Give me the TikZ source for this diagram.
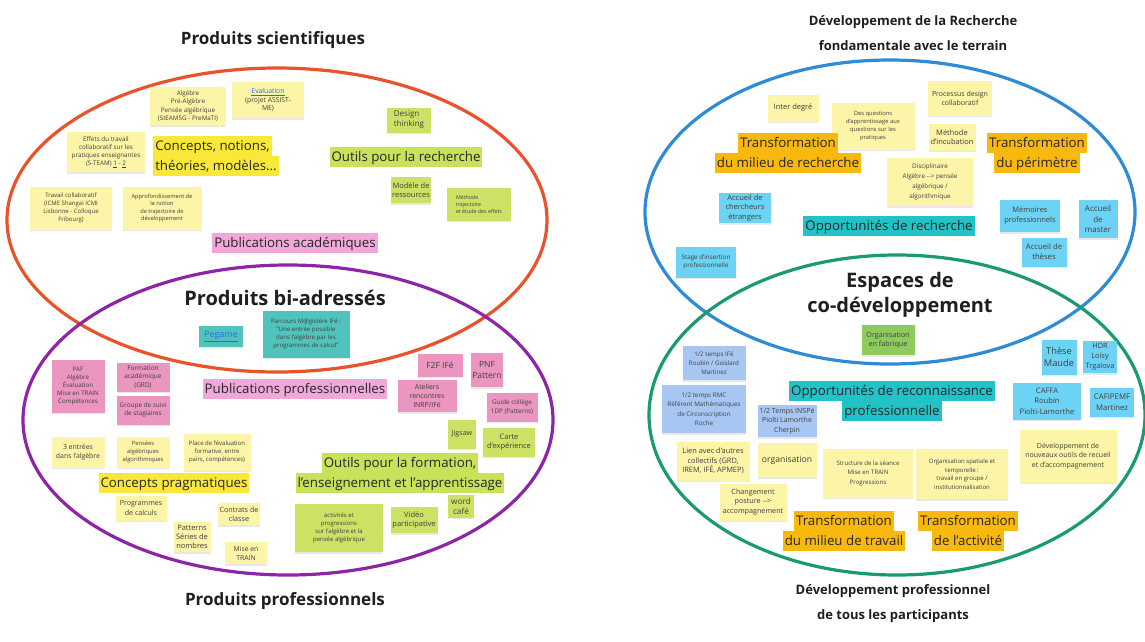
\documentclass[tikz,border=0pt]{standalone}
\usepackage{fontspec}
\setmainfont{Open Sans}
\usetikzlibrary{shadows}
\definecolor{noteyel}{HTML}{FCF4A6}
\definecolor{hlyel}{HTML}{F9E83A}
\definecolor{notegrn}{HTML}{CBE264}
\definecolor{hlgrn}{HTML}{C8E25A}
\definecolor{notepnk}{HTML}{EA96C0}
\definecolor{hlpnk}{HTML}{F0A8DA}
\definecolor{notecyn}{HTML}{50C4BC}
\definecolor{hlcyn}{HTML}{22C3C6}
\definecolor{noteblu}{HTML}{6CD3F4}
\definecolor{notepvk}{HTML}{A7C7F2}
\definecolor{notefab}{HTML}{8ECB5F}
\definecolor{hlorg}{HTML}{F8B80E}
\definecolor{linkblue}{HTML}{2A6FD6}
\definecolor{redring}{HTML}{E9532C}
\definecolor{purplering}{HTML}{8E24A6}
\definecolor{bluering}{HTML}{2E8BD6}
\definecolor{greenring}{HTML}{1A9A70}
\newcommand\hlt[2]{{\fboxsep=0pt\colorbox{#1}{\strut\kern2pt #2\kern2pt}}}
\newcommand\lnk[1]{\textcolor{linkblue}{\underline{#1}}}

\begin{document}
\begin{tikzpicture}[x=1pt,y=-1pt,
  ring/.style={line width=3.2pt},
  fs/.style 2 args={font=\fontsize{#1}{#2}\selectfont},
  note/.style={align=center,inner sep=1pt,text=black!75,fs={6.3}{8.2},
    drop shadow={shadow xshift=0.3pt,shadow yshift=-1.5pt,opacity=.18}},
  sz/.style 2 args={minimum width=#1,minimum height=#2},
  yel/.style={note,fill=noteyel}, grn/.style={note,fill=notegrn},
  pnk/.style={note,fill=notepnk}, cyn/.style={note,fill=notecyn},
  blu/.style={note,fill=noteblu}, pvk/.style={note,fill=notepvk},
  fab/.style={note,fill=notefab},
  hl/.style={align=center,inner sep=0pt,text=black!85,fs={13.3}{20}},
  title/.style={align=center,text=black!88,font=\bfseries\fontsize{17}{25}\selectfont},
  bigtitle/.style={title,font=\bfseries\fontsize{20}{25}\selectfont},
  rtitle/.style={title,font=\bfseries\fontsize{13}{25}\selectfont}]
\fill[white] (0,0) rectangle (1145,641);
\useasboundingbox (0,0) rectangle (1145,641);

% les quatre ensembles
\draw[ring,redring] (277,220) ellipse [x radius=270pt,y radius=152pt];
\draw[ring,purplering] (288,420) ellipse [x radius=265pt,y radius=155pt];
\draw[ring,bluering] (890,212) ellipse [x radius=245pt,y radius=152pt];
\draw[ring,greenring] (897,415) ellipse [x radius=248pt,y radius=160pt];

% produits scientifiques
\node[title] (tsci) at (273,40) {Produits scientifiques};
\node[yel,sz={76}{38}] (alg) at (188,106) {Algèbre\\Pré-Algèbre\\Pensée algébrique\\(StEAMSG - PreMaTI)};
\node[yel,fs={6.8}{8.8},sz={72}{36}] (eval) at (268,100) {\lnk{Evaluation}\\(projet ASSIST-\\ME)};
\node[yel,sz={78}{40}] (effets) at (106,152) {Effets du travail\\collaboratif sur les\\pratiques enseignantes\\(S-TEAM) \underline{1} - \underline{2}};
\node[hl,align=left] (concepts) at (216,156) {\hlt{hlyel}{Concepts, notions,}\\\hlt{hlyel}{théories, modèles...}};
\node[yel,fs={6}{7.8},sz={82}{43}] (travail) at (71,208) {Travail collaboratif\\(ICME Shangai ICMI\\Lisbonne - Colloque\\Fribourg)};
\node[yel,fs={5.7}{7.6},sz={79}{43}] (approf) at (162,208) {Approfondissement de\\la notion\\de trajectoire de\\développement};
\node[hl] (pubacad) at (295,243) {\hlt{hlpnk}{Publications académiques}};
\node[grn,fs={8}{10},align=left,sz={44}{25}] (design) at (409,120) {Design\\thinking};
\node[hl] (outrech) at (406,157) {\hlt{hlgrn}{Outils pour la recherche}};
\node[grn,fs={7.5}{9.5},sz={40}{26}] (modele) at (411,190) {Modèle de\\ressources};
\node[grn,fs={5.3}{7},align=left,sz={64}{33}] (methode) at (479,204) {Méthode\\trajectoire\\et étude des effets};

% produits bi-adresses
\node[bigtitle] (tbi) at (285,298) {Produits bi-adressés};
\node[cyn,fs={9}{11},sz={44}{21}] (pegame) at (221,336) {\lnk{Pegame}};
\node[cyn,fs={6.1}{8},sz={87}{47}] (parcours) at (306,334) {Parcours M@gistère IFé :\\"Une entrée possible\\dans l'algèbre par les\\programmes de calcul"};

% produits professionnels
\node[pnk,fs={6.2}{8.2},sz={53}{53}] (paf) at (78,386) {PAF\\Algèbre\\Évaluation\\Mise en TRAIN\\Compétences};
\node[pnk,fs={6.5}{8.3},sz={53}{29}] (formacad) at (143,377) {Formation\\académique\\(GRD)};
\node[pnk,fs={6.4}{8.4},sz={53}{29}] (groupe) at (143,410) {Groupe de suivi\\de stagiaires};
\node[hl] (pubpro) at (295,389) {\hlt{hlpnk}{Publications professionnelles}};
\node[pnk,fs={8.5}{10},sz={45}{23}] (f2f) at (440,365) {F2F IFé};
\node[pnk,fs={8.5}{10.5},sz={32}{34}] (pnf) at (487,370) {PNF\\Pattern};
\node[pnk,fs={6.9}{8.8},sz={59}{32}] (ateliers) at (427,396) {Ateliers\\rencontres\\INRP/IFé};
\node[pnk,fs={6.3}{8.3},sz={51}{29}] (guide) at (512,407) {Guide collège\\1DP (Patterns)};
\node[grn,fs={7.1}{9},sz={28}{29}] (jigsaw) at (462,434) {Jigsaw};
\node[grn,fs={7.5}{9.3},sz={52}{29}] (carte) at (509,442) {Carte\\d'expérience};
\node[yel,fs={6.9}{9},sz={53}{31}] (entrees) at (78,452) {3 entrées\\dans l'algèbre};
\node[yel,fs={5.8}{7.8},sz={53}{31}] (pensees) at (143,452) {Pensées\\algébriques\\algorithmiques};
\node[yel,fs={6}{7.8},sz={67}{37}] (place) at (217,452) {Place de l'évaluation\\formative, entre\\pairs, compétences)};
\node[hl] (concprag) at (174,483) {\hlt{hlyel}{Concepts pragmatiques}};
\node[yel,fs={7.1}{9.2},sz={51}{25}] (programmes) at (141,508) {Programmes\\de calculs};
\node[yel,fs={7.5}{9.3},sz={37}{30}] (patterns) at (192,537) {Patterns\\Séries de\\nombres};
\node[yel,fs={7.2}{9},sz={42}{22}] (contrats) at (239,514) {Contrats de\\classe};
\node[yel,fs={6.8}{9},sz={42}{22}] (miseen) at (246,553) {Mise en\\TRAIN};
\node[hl] (outform) at (400,473) {\hlt{hlgrn}{Outils pour la formation,}\\\hlt{hlgrn}{l'enseignement et l'apprentissage}};
\node[grn,fs={8.2}{10},sz={26}{23}] (wordcafe) at (461,506) {word\\café};
\node[grn,fs={6}{8.2},sz={88}{48}] (activites) at (339,528) {activités et\\progressions\\sur l'algèbre et la\\pensée algébrique};
\node[grn,fs={7.5}{9.3},sz={47}{26}] (video) at (414,520) {Vidéo\\participative};
\node[title] (tpro) at (285,601) {Produits professionnels};

% recherche fondamentale
\node[rtitle] (trec) at (913,33) {Développement de la Recherche\\fondamentale avec le terrain};
\node[yel,fs={7.5}{9},sz={51}{27}] (interdeg) at (793,108) {Inter degré};
\node[yel,fs={5.8}{7.8},sz={83}{47}] (desquest) at (873,126) {Des questions\\d'apprentissage aux\\questions sur les\\pratiques};
\node[yel,fs={7}{9},sz={64}{35}] (processus) at (960,98) {Processus design\\collaboratif};
\node[yel,fs={7.5}{9.3},sz={47}{27}] (incub) at (952,137) {Méthode\\d'incubation};
\node[yel,fs={6.3}{10},sz={86}{48}] (discip) at (930,182) {Disciplinaire\\Algèbre -{}-> pensée\\algébrique /\\algorithmique};
\node[hl] (trech) at (788,153) {\hlt{hlorg}{Transformation}\\\hlt{hlorg}{du milieu de recherche}};
\node[hl] (tper) at (1037,153) {\hlt{hlorg}{Transformation}\\\hlt{hlorg}{du périmètre}};
\node[blu,fs={7.5}{9.3},sz={52}{30}] (accch) at (745,208) {Accueil de\\chercheurs\\étrangers};
\node[hl] (opprech) at (889,226) {\hlt{hlcyn}{Opportunités de recherche}};
\node[blu,fs={6.3}{8.5},sz={60}{31}] (stage) at (706,262) {Stage d'insertion\\professionnelle};
\node[blu,fs={7.5}{10},sz={60}{32}] (memoires) at (1030,216) {Mémoires\\professionnels};
\node[blu,fs={8}{10.5},sz={39}{38}] (accmaster) at (1098,219) {Accueil\\de\\master};
\node[blu,fs={7.7}{10},sz={45}{29}] (accthese) at (1044,252) {Accueil de\\thèses};

% co-developpement
\node[bigtitle] (tesp) at (900,295) {Espaces de\\co-développement};
\node[fab,fs={7.2}{9.5},sz={53}{30}] (fabrique) at (888,340) {Organisation\\en fabrique};
\node[pvk,fs={6.2}{8.8},sz={63}{34}] (roubin) at (714,363) {1/2 temps IFé\\Roubin / Goislard\\Martinez};
\node[pvk,fs={6.3}{9.5},sz={84}{48}] (rmc) at (704,409) {1/2 temps RMC\\Référent Mathématiques\\de Circonscription\\Roche};
\node[pvk,fs={7}{9.3},sz={59}{32}] (inspe) at (787,421) {1/2 Temps INSPé\\Piolti Lamorthe\\Cherpin};
\node[hl] (oppreco) at (892,401) {\hlt{hlcyn}{Opportunités de reconnaissance}\\\hlt{hlcyn}{professionnelle}};
\node[yel,fs={7.4}{9.5},sz={73}{39}] (lien) at (713,461) {Lien avec d'autres\\collectifs (GRD,\\IREM, IFÉ, APMEP)};
\node[yel,fs={8.6}{10},sz={59}{34}] (orga) at (787,460) {organisation};
\node[yel,fs={6.1}{9.5},sz={90}{49}] (structure) at (868,473) {Structure de la séance\\Mise en TRAIN\\Progressions};
\node[yel,fs={6}{8.5},sz={92}{50}] (orgspat) at (962,474) {Organisation spatiale et\\temporelle :\\travail en groupe /\\institutionnalisation};
\node[yel,fs={7.2}{9.3},sz={67}{37}] (changement) at (753,502) {Changement\\posture -{}->\\accompagnement};
\node[hl] (ttravail) at (844,531) {\hlt{hlorg}{Transformation}\\\hlt{hlorg}{du milieu de travail}};
\node[hl] (tactiv) at (968,531) {\hlt{hlorg}{Transformation}\\\hlt{hlorg}{de l'activité}};
\node[blu,fs={9.3}{11.5},sz={35}{35}] (these) at (1059,357) {Thèse\\Maude};
\node[blu,fs={7.4}{9.8},sz={34}{32}] (hdr) at (1100,357) {HDR\\Loisy\\Trgalova};
\node[blu,fs={7.6}{10.5},sz={68}{37}] (caffa) at (1047,401) {CAFFA\\Roubin\\Piolti-Lamorthe};
\node[blu,fs={7.8}{10.5},sz={44}{29}] (cafipemf) at (1112,402) {CAFIPEMF\\Martinez};
\node[yel,fs={7}{9.3},sz={97}{53}] (devout) at (1068,456) {Développement de\\nouveaux outils de recueil\\et d'accompagnement};
\node[rtitle] (tdev) at (893,604) {Développement professionnel\\de tous les participants};
\end{tikzpicture}
\end{document}
